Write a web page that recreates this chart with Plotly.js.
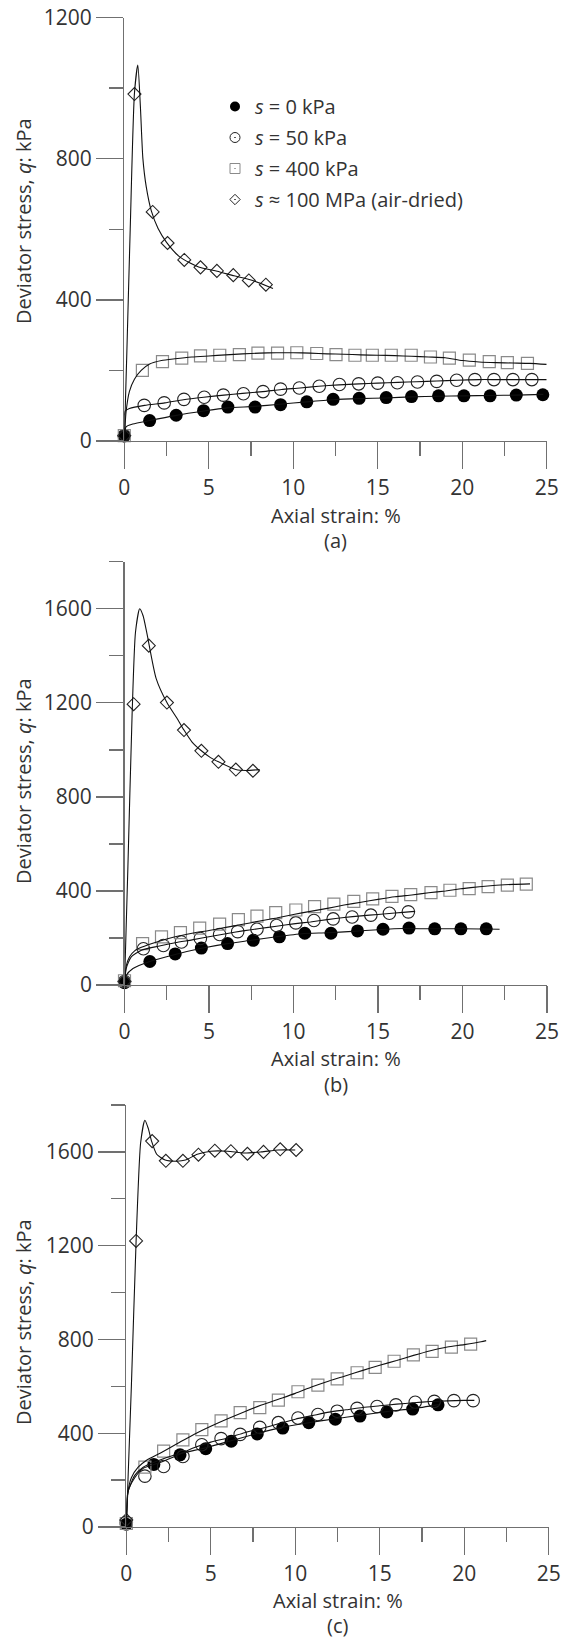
<!DOCTYPE html>
<html>
<head>
<meta charset="utf-8">
<script src="https://cdn.plot.ly/plotly-3.0.1.min.js"></script>
<style>
html,body{margin:0;padding:0;background:#fff;}
#chart{width:568px;height:1639px;}
</style>
</head>
<body>
<div id="chart"></div>
<script>
// ---------- Panel (a) ----------
const aS0x = [0, 1.5, 3.07, 4.69, 6.13, 7.74, 9.25, 10.8, 12.36, 13.9, 15.5, 17.0, 18.6, 20.1, 21.65, 23.2, 24.77];
const aS0y = [15, 58, 73, 86, 96, 96, 103, 111, 118, 121, 123, 126, 128, 128, 128, 130, 131];
const aS50x = [0, 1.18, 2.36, 3.53, 4.73, 5.86, 7.05, 8.21, 9.25, 10.36, 11.54, 12.73, 13.87, 15.0, 16.16, 17.35, 18.49, 19.67, 20.75, 21.88, 23.0, 24.12];
const aS50y = [15, 101, 108, 118, 124, 130, 134, 140, 147, 150, 155, 160, 162, 164, 165, 167, 169, 172, 174, 174, 174, 174];
const aS400x = [0, 1.07, 2.26, 3.4, 4.51, 5.65, 6.81, 7.91, 9.07, 10.21, 11.39, 12.53, 13.65, 14.68, 15.8, 16.98, 18.12, 19.24, 20.42, 21.6, 22.67, 23.86];
const aS400y = [15, 200, 225, 235, 241, 243, 245, 249, 249, 250, 248, 245, 243, 243, 243, 243, 238, 235, 229, 225, 222, 220];
const aSdx = [0, 0.6, 1.68, 2.56, 3.55, 4.51, 5.48, 6.45, 7.37, 8.38];
const aSdy = [15, 983, 649, 561, 513, 492, 482, 470, 455, 443];
// fitted curves (a)
const aC0x = [0, 0.1, 0.5, 1.5, 3, 4.7, 6.1, 7.7, 9.2, 10.8, 12.4, 13.9, 15.5, 17, 18.6, 20.1, 21.7, 23.2, 24.8];
const aC0y = [0, 40, 48, 58, 72, 85, 94, 98, 104, 111, 117, 120, 122, 125, 127, 128, 129, 130, 132];
const aC50x = [0, 0.05, 0.3, 1.2, 2.4, 3.5, 4.7, 5.9, 7, 8.2, 9.3, 10.4, 11.5, 12.7, 13.9, 15, 16.2, 17.3, 18.5, 19.7, 21, 22, 23, 24, 25];
const aC50y = [0, 85, 92, 101, 108, 117, 124, 130, 135, 140, 146, 150, 155, 159, 162, 164, 166, 168, 170, 172, 174, 174, 174, 174, 174];
const aC400x = [0, 0.1, 0.3, 0.6, 1.0, 1.5, 2.2, 3, 4, 5, 6, 7, 8, 9, 10, 11, 12, 13, 14, 15, 16, 17, 18, 19, 20, 21, 22, 23, 24, 25];
const aC400y = [0, 80, 140, 175, 200, 218, 228, 233, 238, 241, 244, 247, 249, 250, 250, 249, 247, 246, 244, 243, 242, 240, 238, 236, 228, 224, 222, 221, 220, 217];
const aCdx = [0, 0.15, 0.35, 0.6, 0.8, 0.95, 1.1, 1.3, 1.6, 2.0, 2.5, 3.3, 4.4, 5.5, 6.5, 7.6, 8.8];
const aCdy = [0, 250, 600, 985, 1065, 950, 800, 720, 652, 602, 563, 521, 493, 481, 468, 455, 432];

// ---------- Panel (b) ----------
const bS0x = [0, 1.5, 3.0, 4.55, 6.1, 7.62, 9.17, 10.67, 12.22, 13.79, 15.3, 16.84, 18.36, 19.91, 21.41];
const bS0y = [10, 100, 132, 157, 176, 190, 205, 220, 220, 230, 237, 242, 239, 239, 239];
const bS50x = [0, 1.12, 2.3, 3.37, 4.49, 5.63, 6.7, 7.84, 9.0, 10.14, 11.21, 12.35, 13.47, 14.58, 15.68, 16.8];
const bS50y = [15, 154, 168, 183, 198, 215, 227, 237, 253, 264, 274, 281, 289, 297, 305, 311];
const bS400x = [0, 1.07, 2.19, 3.31, 4.45, 5.63, 6.74, 7.84, 8.95, 10.14, 11.25, 12.39, 13.57, 14.69, 15.83, 16.94, 18.14, 19.26, 20.4, 21.52, 22.66, 23.78];
const bS400y = [18, 176, 205, 223, 242, 259, 278, 293, 308, 319, 333, 344, 356, 366, 377, 384, 393, 403, 410, 418, 425, 429];
const bSdx = [0, 0.54, 1.44, 2.51, 3.52, 4.55, 5.56, 6.59, 7.6];
const bSdy = [15, 1194, 1443, 1201, 1084, 996, 949, 916, 911];
const bC0x = [0, 0.1, 0.5, 1.5, 3, 4.5, 6, 7.5, 9, 10.5, 12, 13.5, 15, 16.5, 18, 20, 22.2];
const bC0y = [0, 40, 70, 100, 130, 155, 175, 190, 205, 218, 222, 228, 235, 240, 239, 239, 237];
const bC50x = [0, 0.1, 0.4, 1.0, 2, 3, 4, 5, 6, 7, 8, 9, 10, 11, 12, 13, 14, 15, 16, 17, 17.2];
const bC50y = [0, 70, 120, 148, 165, 180, 192, 205, 218, 230, 240, 250, 260, 268, 278, 287, 294, 300, 306, 312, 313];
const bC400x = [0, 0.1, 0.3, 0.6, 1.0, 2, 3, 4, 5, 6, 7, 8, 9, 10, 11, 12, 13, 14, 15, 16, 17, 18, 19, 20, 21, 22, 23, 24];
const bC400y = [0, 80, 120, 145, 160, 185, 205, 220, 232, 245, 258, 272, 285, 300, 313, 326, 340, 352, 364, 375, 383, 392, 400, 410, 418, 424, 428, 430];
const bCdx = [0, 0.2, 0.45, 0.65, 0.9, 1.1, 1.33, 1.87, 2.51, 3.16, 3.52, 4.0, 4.55, 5.09, 5.56, 6.59, 7.2, 8.0];
const bCdy = [0, 500, 1150, 1500, 1600, 1570, 1494, 1304, 1201, 1128, 1084, 1033, 996, 967, 949, 916, 912, 916];

// ---------- Panel (c) ----------
const cS0x = [0, 1.63, 3.18, 4.7, 6.21, 7.75, 9.26, 10.8, 12.37, 13.83, 15.42, 16.95, 18.45];
const cS0y = [12, 267, 308, 334, 366, 397, 422, 445, 460, 473, 491, 503, 521];
const cS50x = [0, 1.1, 2.21, 3.35, 4.47, 5.61, 6.74, 7.9, 9.0, 10.16, 11.34, 12.48, 13.66, 14.84, 15.96, 17.1, 18.23, 19.39, 20.53];
const cS50y = [20, 217, 258, 301, 351, 377, 395, 425, 445, 465, 480, 494, 506, 514, 521, 532, 536, 539, 539];
const cS400x = [0, 1.1, 2.21, 3.35, 4.47, 5.61, 6.74, 7.9, 9.0, 10.16, 11.34, 12.48, 13.66, 14.73, 15.85, 16.99, 18.1, 19.24, 20.38];
const cS400y = [15, 255, 324, 372, 415, 453, 488, 509, 541, 577, 605, 632, 658, 681, 707, 734, 749, 767, 780];
const cSdx = [0, 0.58, 1.53, 2.34, 3.35, 4.27, 5.24, 6.19, 7.17, 8.12, 9.11, 10.05];
const cSdy = [30, 1220, 1646, 1562, 1562, 1588, 1605, 1603, 1592, 1600, 1611, 1608];
const cC0x = [0, 0.1, 0.5, 1, 1.6, 3, 4.7, 6.2, 7.7, 9.2, 10.8, 12.4, 13.8, 15.4, 17, 18.5];
const cC0y = [0, 150, 220, 255, 275, 310, 338, 368, 398, 425, 445, 462, 476, 492, 505, 522];
const cC50x = [0, 0.1, 0.5, 1, 2, 3, 4, 5, 6, 7, 8, 9, 10, 11, 12, 13, 14, 15, 16, 17, 18, 19, 20, 20.6];
const cC50y = [0, 150, 210, 250, 275, 305, 338, 362, 380, 402, 420, 440, 460, 475, 490, 500, 510, 517, 524, 530, 535, 538, 540, 540];
const cC400x = [0, 0.1, 0.3, 0.7, 1.2, 2, 3, 4, 5, 6, 7, 8, 9, 10, 11, 12, 13, 14, 15, 16, 17, 18, 19, 20, 21, 21.3];
const cC400y = [0, 150, 210, 255, 285, 315, 355, 395, 430, 462, 492, 520, 545, 570, 598, 623, 645, 668, 690, 710, 732, 752, 768, 778, 790, 795];
const cCdx = [0, 0.3, 0.58, 0.85, 1.1, 1.3, 1.5, 1.8, 2.3, 3.0, 3.5, 4.2, 5.0, 6, 7, 8, 9, 10];
const cCdy = [0, 600, 1220, 1640, 1735, 1700, 1645, 1590, 1565, 1560, 1565, 1590, 1603, 1603, 1595, 1600, 1608, 1608];

// ---------- Text ----------
const legendNames = ['<i>s</i> = 0 kPa', '<i>s</i> = 50 kPa', '<i>s</i> = 400 kPa', '<i>s</i> ≈ 100 MPa (air-dried)'];
const xTitle = 'Axial strain: %';
const yTitle = 'Deviator stress, <i>q</i>: kPa';
const panelLabels = ['(a)', '(b)', '(c)'];

// ---------- Styling ----------
const FONT = '"Open Sans", "Noto Sans", sans-serif';
const TXT = '#333333';
const AX = '#707070';
const H = 1639, W = 568;
const sym = {
  s0: {symbol: 'circle', size: 13, color: '#000', line: {width: 0}},
  s50: {symbol: 'circle-open', size: 12.5, color: '#222', line: {width: 1.1}},
  s400: {symbol: 'square-open', size: 12, color: '#8a8a8a', line: {width: 1.2}},
  sd: {symbol: 'diamond-open', size: 10, color: '#222', line: {width: 1.1}}
};

function mk(x, y, m, ax) {
  return {x: x, y: y, mode: 'markers', type: 'scatter', marker: m, xaxis: 'x' + ax, yaxis: 'y' + ax,
          showlegend: false, cliponaxis: false, hoverinfo: 'skip'};
}
function ln(x, y, ax) {
  return {x: x, y: y, mode: 'lines', type: 'scatter', line: {color: '#111', width: 1.1, shape: 'spline', smoothing: 0.6},
          xaxis: 'x' + ax, yaxis: 'y' + ax, showlegend: false, cliponaxis: false, hoverinfo: 'skip'};
}

const traces = [];
const panels = [
  {ax: '', d: [[aS0x, aS0y], [aS50x, aS50y], [aS400x, aS400y], [aSdx, aSdy]], c: [[aC0x, aC0y], [aC50x, aC50y], [aC400x, aC400y], [aCdx, aCdy]]},
  {ax: '2', d: [[bS0x, bS0y], [bS50x, bS50y], [bS400x, bS400y], [bSdx, bSdy]], c: [[bC0x, bC0y], [bC50x, bC50y], [bC400x, bC400y], [bCdx, bCdy]]},
  {ax: '3', d: [[cS0x, cS0y], [cS50x, cS50y], [cS400x, cS400y], [cSdx, cSdy]], c: [[cC0x, cC0y], [cC50x, cC50y], [cC400x, cC400y], [cCdx, cCdy]]}
];
const syms = [sym.s0, sym.s50, sym.s400, sym.sd];
panels.forEach(p => {
  p.d.forEach((s, i) => traces.push(mk(s[0], s[1], syms[i], p.ax)));
  p.c.forEach(s => traces.push(ln(s[0], s[1], p.ax)));
});
// legend entries
const legSyms = [
  {symbol: 'circle', size: 10, color: '#000'},
  {symbol: 'circle-open-dot', size: 10, color: '#222', line: {width: 1}},
  {symbol: 'square-open-dot', size: 10, color: '#8a8a8a', line: {width: 1}},
  {symbol: 'diamond-open-dot', size: 8, color: '#222', line: {width: 1}}
];
legendNames.forEach((n, i) => traces.push({x: [null], y: [null], mode: 'markers', type: 'scatter', name: n,
  legendgroup: 'g' + i, marker: legSyms[i], xaxis: 'x', yaxis: 'y', showlegend: true, hoverinfo: 'skip'}));

function py(pix) { return 1 - pix / H; }
function px(pix) { return pix / W; }

function xax(l, r, anchor) {
  return {domain: [px(l), px(r)], anchor: anchor, range: [0, 25], showline: true, linecolor: AX, linewidth: 1.4,
    ticks: 'outside', ticklen: 27, tickwidth: 1.4, tickcolor: AX, tickmode: 'linear', tick0: 0, dtick: 5,
    minor: {ticks: 'outside', tickmode: 'linear', tick0: 0, dtick: 2.5, ticklen: 14, tickwidth: 1.4, tickcolor: AX, showgrid: false},
    showgrid: false, zeroline: false, tickfont: {family: FONT, size: 21, color: TXT}, fixedrange: true};
}
function yax(b, t, top, anchor) {
  return {domain: [py(b), py(t)], anchor: anchor, range: [0, top], showline: true, linecolor: AX, linewidth: 1.4,
    ticks: 'outside', ticklen: 27, tickwidth: 1.4, tickcolor: AX, tickmode: 'linear', tick0: 0, dtick: 400,
    minor: {ticks: 'outside', tickmode: 'linear', tick0: 0, dtick: 200, ticklen: 14, tickwidth: 1.4, tickcolor: AX, showgrid: false},
    showgrid: false, zeroline: false, tickfont: {family: FONT, size: 21, color: TXT}, fixedrange: true};
}

const geo = [
  {l: 124.3, r: 546.7, b: 441, t: 17.5, top: 1200, yt: 221, tt: 74, cp: 99},
  {l: 124.5, r: 546.9, b: 985, t: 561.7, top: 1800, yt: 781, tt: 73, cp: 99},
  {l: 126.3, r: 548.7, b: 1527, t: 1105, top: 1800, yt: 1322, tt: 73, cp: 98}
];

const annotations = [];
geo.forEach((g, i) => {
  const cx = px((g.l + g.r) / 2);
  annotations.push({text: xTitle, xref: 'paper', yref: 'paper', x: cx, y: py(g.b + g.tt), xanchor: 'center', yanchor: 'middle',
    showarrow: false, font: {family: FONT, size: 20, color: TXT}});
  annotations.push({text: panelLabels[i], xref: 'paper', yref: 'paper', x: cx, y: py(g.b + g.cp), xanchor: 'center', yanchor: 'middle',
    showarrow: false, font: {family: FONT, size: 20, color: TXT}});
  annotations.push({text: yTitle, xref: 'paper', yref: 'paper', x: px(23), y: py(g.yt), xanchor: 'center', yanchor: 'middle',
    textangle: -90, showarrow: false, font: {family: FONT, size: 20, color: TXT}});
});

const layout = {
  width: W, height: H, margin: {l: 0, r: 0, t: 0, b: 0}, paper_bgcolor: '#fff', plot_bgcolor: 'rgba(0,0,0,0)',
  font: {family: FONT, size: 20, color: TXT},
  xaxis: xax(geo[0].l, geo[0].r, 'y'), yaxis: yax(geo[0].b, geo[0].t, geo[0].top, 'x'),
  xaxis2: xax(geo[1].l, geo[1].r, 'y2'), yaxis2: yax(geo[1].b, geo[1].t, geo[1].top, 'x2'),
  xaxis3: xax(geo[2].l, geo[2].r, 'y3'), yaxis3: yax(geo[2].b, geo[2].t, geo[2].top, 'x3'),
  showlegend: true,
  legend: {x: px(215), y: py(87), xanchor: 'left', yanchor: 'top', bgcolor: 'rgba(0,0,0,0)', borderwidth: 0,
    font: {family: FONT, size: 20, color: TXT}, tracegroupgap: 2, itemclick: false, itemdoubleclick: false},
  annotations: annotations,
  hovermode: false
};

Plotly.newPlot('chart', traces, layout, {staticPlot: true, displayModeBar: false});
</script>
</body>
</html>
